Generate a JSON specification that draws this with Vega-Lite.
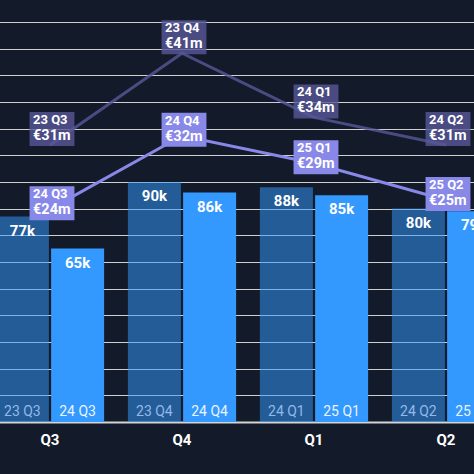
{
  "$schema": "https://vega.github.io/schema/vega-lite/v6.json",
  "width": 474,
  "height": 422,
  "autosize": {"type": "none"},
  "padding": {"left": 0, "top": 0, "right": 0, "bottom": 52},
  "background": "#131a29",
  "config": {"view": {"stroke": null}, "font": "Roboto"},
  "data": {
    "values": [
      {"q": "Q3", "s": "prev", "period": "23 Q3", "units": 77000, "rev": 31, "revLabel": "€31m"},
      {"q": "Q3", "s": "curr", "period": "24 Q3", "units": 65000, "rev": 24, "revLabel": "€24m"},
      {"q": "Q4", "s": "prev", "period": "23 Q4", "units": 90000, "rev": 41, "revLabel": "€41m"},
      {"q": "Q4", "s": "curr", "period": "24 Q4", "units": 86000, "rev": 32, "revLabel": "€32m"},
      {"q": "Q1", "s": "prev", "period": "24 Q1", "units": 88000, "rev": 34, "revLabel": "€34m"},
      {"q": "Q1", "s": "curr", "period": "25 Q1", "units": 85000, "rev": 29, "revLabel": "€29m"},
      {"q": "Q2", "s": "prev", "period": "24 Q2", "units": 80000, "rev": 31, "revLabel": "€31m"},
      {"q": "Q2", "s": "curr", "period": "25 Q2", "units": 79000, "rev": 25, "revLabel": "€25m"}
    ]
  },
  "encoding": {
    "x": {
      "field": "q",
      "type": "nominal",
      "sort": ["Q3", "Q4", "Q1", "Q2"],
      "scale": {"range": [-16, 512], "paddingInner": 0.18, "paddingOuter": 0.09},
      "axis": {
        "title": null,
        "labelAngle": 0,
        "labelFont": "Roboto",
        "labelFontSize": 15,
        "labelFontWeight": "bold",
        "labelColor": "#ffffff",
        "labelPadding": 10,
        "ticks": false,
        "domainColor": "#d4d4d4",
        "domainWidth": 2,
        "grid": false
      }
    }
  },
  "layer": [
    {
      "encoding": {
        "xOffset": {"field": "s", "type": "nominal", "sort": ["prev", "curr"], "scale": {"paddingInner": 0.04, "paddingOuter": 0}},
        "y": {
          "field": "units",
          "type": "quantitative",
          "scale": {"domain": [0, 158200], "nice": false},
          "axis": {
            "title": null,
            "labels": false,
            "ticks": false,
            "domain": false,
            "grid": true,
            "gridColor": "#d0d0d0",
            "gridWidth": 1,
            "values": [10000, 20000, 30000, 40000, 50000, 60000, 70000, 80000, 90000, 100000, 110000, 120000, 130000, 140000, 150000]
          }
        }
      },
      "layer": [
        {
          "mark": {"type": "bar", "color": "#3399ff"},
          "encoding": {
            "opacity": {"field": "s", "type": "nominal", "scale": {"domain": ["prev", "curr"], "range": [0.52, 1]}, "legend": null}
          }
        },
        {
          "mark": {"type": "text", "font": "Roboto", "fontSize": 15, "fontWeight": "bold", "color": "#ffffff", "baseline": "middle", "dy": 14},
          "encoding": {"text": {"field": "units", "type": "quantitative", "format": "~s"}}
        },
        {
          "mark": {"type": "text", "font": "Roboto", "fontSize": 14, "baseline": "middle", "dy": -10.5},
          "encoding": {
            "y": {"datum": 0},
            "text": {"field": "period"},
            "color": {"field": "s", "type": "nominal", "scale": {"domain": ["prev", "curr"], "range": ["#92b9e8", "#eaf3ff"]}, "legend": null}
          }
        }
      ]
    },
    {
      "encoding": {
        "y": {"field": "rev", "type": "quantitative", "scale": {"domain": [0.8, 46.8], "nice": false, "zero": false}, "axis": null}
      },
      "layer": [
        {
          "mark": {"type": "line", "strokeWidth": 3},
          "encoding": {
            "color": {"field": "s", "type": "nominal", "scale": {"domain": ["prev", "curr"], "range": ["#595798", "#8888e8"]}, "legend": null},
            "opacity": {"field": "s", "type": "nominal", "scale": {"domain": ["prev", "curr"], "range": [0.8, 1]}, "legend": null},
            "order": {"value": null}
          }
        },
        {
          "transform": [{"filter": "datum.s === 'prev'"}],
          "layer": [
            {"mark": {"type": "point", "shape": "M-1.32,-1L1.32,-1L1.32,1L-1.32,1Z", "size": 1156, "filled": true, "color": "#595798", "opacity": 0.8, "strokeWidth": 0, "xOffset": 2, "yOffset": -16}},
            {"mark": {"type": "text", "align": "left", "baseline": "middle", "font": "Roboto", "fontWeight": "bold", "fontSize": 13, "color": "#ffffff", "xOffset": -17, "yOffset": -25}, "encoding": {"text": {"field": "period"}}},
            {"mark": {"type": "text", "align": "left", "baseline": "middle", "font": "Roboto", "fontWeight": "bold", "fontSize": 14.5, "color": "#ffffff", "xOffset": -17, "yOffset": -9}, "encoding": {"text": {"field": "revLabel"}}}
          ]
        },
        {
          "transform": [{"filter": "datum.s === 'curr'"}],
          "layer": [
            {"mark": {"type": "point", "shape": "M-1.32,-1L1.32,-1L1.32,1L-1.32,1Z", "size": 1156, "filled": true, "color": "#8888e8", "opacity": 1, "strokeWidth": 0, "xOffset": 2, "yOffset": -6}},
            {"mark": {"type": "text", "align": "left", "baseline": "middle", "font": "Roboto", "fontWeight": "bold", "fontSize": 13, "color": "#ffffff", "xOffset": -17, "yOffset": -15}, "encoding": {"text": {"field": "period"}}},
            {"mark": {"type": "text", "align": "left", "baseline": "middle", "font": "Roboto", "fontWeight": "bold", "fontSize": 14.5, "color": "#ffffff", "xOffset": -17, "yOffset": 1}, "encoding": {"text": {"field": "revLabel"}}}
          ]
        }
      ]
    }
  ],
  "resolve": {"scale": {"y": "independent", "color": "independent", "opacity": "independent"}}
}
